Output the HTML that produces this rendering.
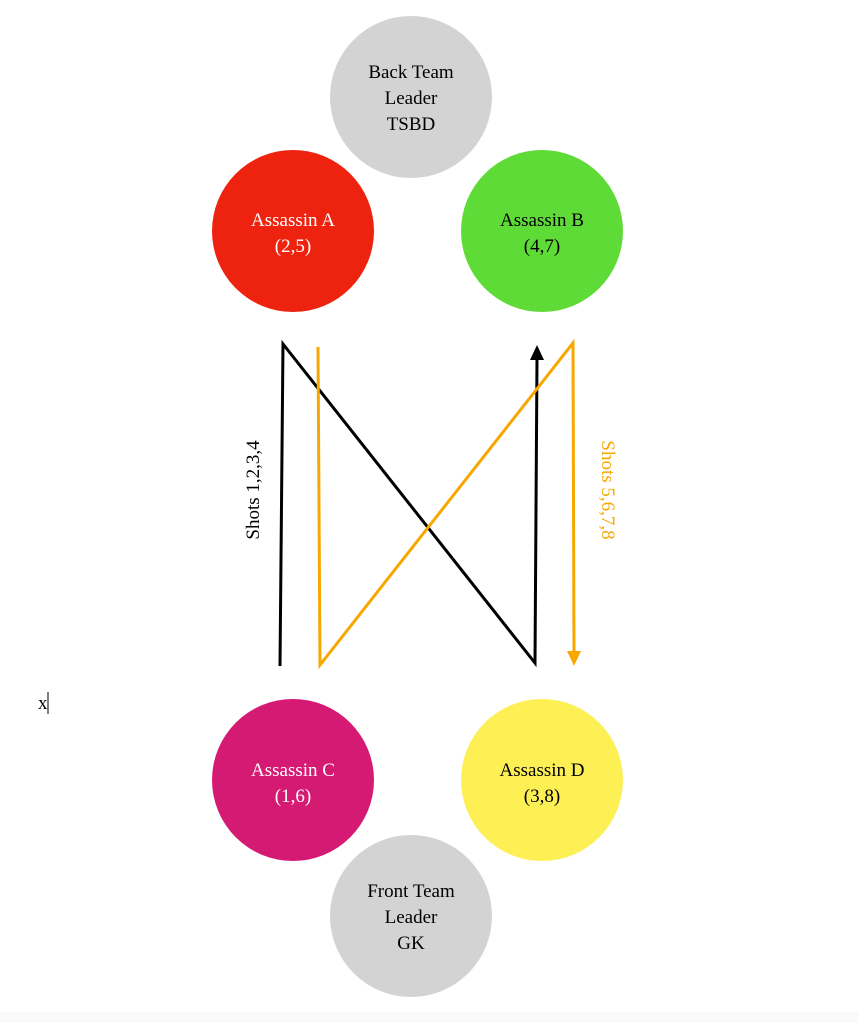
<!DOCTYPE html>
<html><head><meta charset="utf-8"><style>
html,body{margin:0;padding:0;background:#fff;width:858px;height:1023px;overflow:hidden}
</style></head><body>
<svg width="858" height="1023" xmlns="http://www.w3.org/2000/svg" font-family="Liberation Serif, serif" font-size="19">
<rect x="0" y="1012" width="858" height="11" fill="#fafafa"/>
<circle cx="411" cy="97" r="81" fill="#d3d3d3"/>
<circle cx="293" cy="231" r="81" fill="#ee230f"/>
<circle cx="542" cy="231" r="81" fill="#5fdb37"/>
<circle cx="293" cy="780" r="81" fill="#d51a74"/>
<circle cx="542" cy="780" r="81" fill="#fdf055"/>
<circle cx="411" cy="916" r="81" fill="#d3d3d3"/>
<g text-anchor="middle">
<text x="411" y="78">Back Team</text><text x="411" y="104">Leader</text><text x="411" y="130">TSBD</text>
<text x="293" y="226" fill="#fff">Assassin A</text><text x="293" y="252" fill="#fff">(2,5)</text>
<text x="542" y="226">Assassin B</text><text x="542" y="252">(4,7)</text>
<text x="293" y="776" fill="#fff">Assassin C</text><text x="293" y="802" fill="#fff">(1,6)</text>
<text x="542" y="776">Assassin D</text><text x="542" y="802">(3,8)</text>
<text x="411" y="897">Front Team</text><text x="411" y="923">Leader</text><text x="411" y="949">GK</text>
</g>
<polyline points="280,666 283,344 535,663 537,358" fill="none" stroke="#000" stroke-width="3"/>
<polygon points="537,345 530,360 544,360" fill="#000"/>
<polyline points="318,347 320,665 573,343 574,652" fill="none" stroke="#f7a800" stroke-width="3"/>
<polygon points="574,666 567,651 581,651" fill="#f7a800"/>
<text transform="translate(259,490) rotate(-90)" text-anchor="middle">Shots 1,2,3,4</text>
<text transform="translate(602,490) rotate(90)" text-anchor="middle" fill="#f7a800">Shots 5,6,7,8</text>
<text x="38" y="709">x</text>
<line x1="48" y1="692" x2="48" y2="714" stroke="#000" stroke-width="1"/>
</svg>
</body></html>
